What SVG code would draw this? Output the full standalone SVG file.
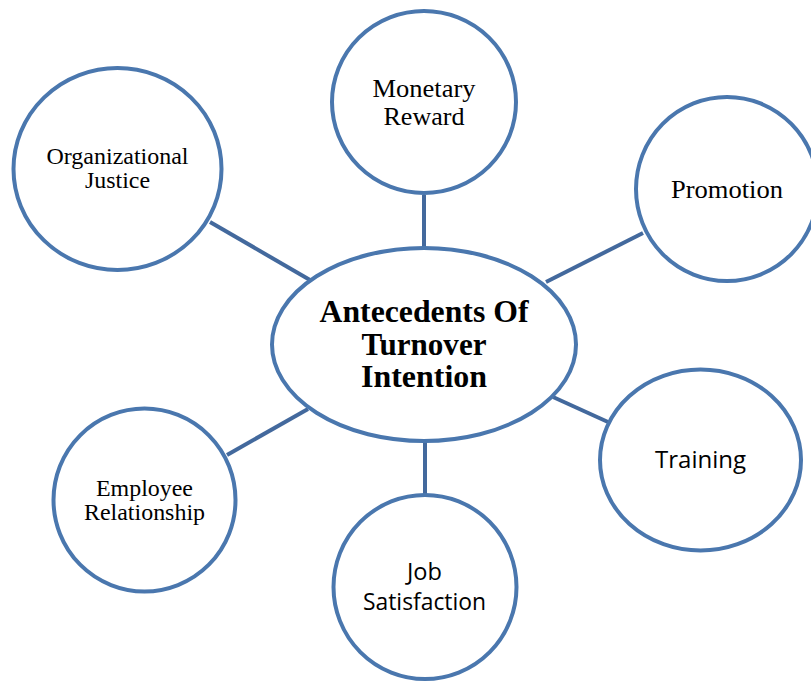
<svg xmlns="http://www.w3.org/2000/svg" width="811" height="681" viewBox="0 0 811 681">
<style>
.node{fill:#ffffff;stroke:#4a77ae;stroke-width:4}
.edge{stroke:#43699d;stroke-width:4;fill:none}
.serif{font-family:"Liberation Serif","Times New Roman",serif;font-size:25px;fill:#000;text-anchor:middle}
.serif2{font-family:"Liberation Serif","Times New Roman",serif;font-size:24px;fill:#000;text-anchor:middle}
.bold{font-family:"Liberation Serif","Times New Roman",serif;font-size:31px;font-weight:bold;fill:#000;text-anchor:middle}
.sans{font-family:"Open Sans","Liberation Sans",sans-serif;font-size:24px;fill:#000;text-anchor:middle}
</style>
<rect x="0" y="0" width="811" height="681" fill="#ffffff"/>
<g id="connectors">
<line class="edge" x1="424" y1="195" x2="424" y2="247"/>
<line class="edge" x1="210" y1="222" x2="310" y2="280"/>
<line class="edge" x1="643" y1="233" x2="546" y2="282"/>
<line class="edge" x1="553" y1="397" x2="608" y2="422"/>
<line class="edge" x1="227" y1="455" x2="308" y2="409"/>
<line class="edge" x1="425" y1="442" x2="425" y2="494"/>
</g>
<g id="monetary-reward">
<ellipse class="node" cx="424" cy="102" rx="92" ry="91"/>
<text class="serif" x="424" y="97" textLength="103" lengthAdjust="spacingAndGlyphs">Monetary</text>
<text class="serif" x="424" y="125" textLength="81" lengthAdjust="spacingAndGlyphs">Reward</text>
</g>
<g id="organizational-justice">
<ellipse class="node" cx="117.5" cy="169" rx="104" ry="101"/>
<text class="serif2" x="117.5" y="164" textLength="142" lengthAdjust="spacingAndGlyphs">Organizational</text>
<text class="serif2" x="117.5" y="188" textLength="65" lengthAdjust="spacingAndGlyphs">Justice</text>
</g>
<g id="promotion">
<ellipse class="node" cx="727" cy="189" rx="91" ry="92"/>
<text class="serif" x="727" y="198" style="font-size:26px" textLength="112" lengthAdjust="spacingAndGlyphs">Promotion</text>
</g>
<g id="antecedents">
<ellipse class="node" cx="424" cy="344.5" rx="152" ry="96.5"/>
<text class="bold" x="424" y="322" textLength="209" lengthAdjust="spacingAndGlyphs">Antecedents Of</text>
<text class="bold" x="424" y="355" textLength="125" lengthAdjust="spacingAndGlyphs">Turnover</text>
<text class="bold" x="424" y="387" textLength="126" lengthAdjust="spacingAndGlyphs">Intention</text>
</g>
<g id="training">
<ellipse class="node" cx="700.5" cy="460" rx="100.5" ry="90.5"/>
<text class="sans" x="700.5" y="468" textLength="91" lengthAdjust="spacingAndGlyphs">Training</text>
</g>
<g id="employee-relationship">
<ellipse class="node" cx="144.5" cy="500" rx="91" ry="91.5"/>
<text class="serif2" x="144.5" y="496" textLength="97" lengthAdjust="spacingAndGlyphs">Employee</text>
<text class="serif2" x="144.5" y="520" textLength="121" lengthAdjust="spacingAndGlyphs">Relationship</text>
</g>
<g id="job-satisfaction">
<ellipse class="node" cx="425" cy="587" rx="91.5" ry="92"/>
<text class="sans" x="424.5" y="580" textLength="35" lengthAdjust="spacingAndGlyphs">Job</text>
<text class="sans" x="424.5" y="610" textLength="123" lengthAdjust="spacingAndGlyphs">Satisfaction</text>
</g>
</svg>
